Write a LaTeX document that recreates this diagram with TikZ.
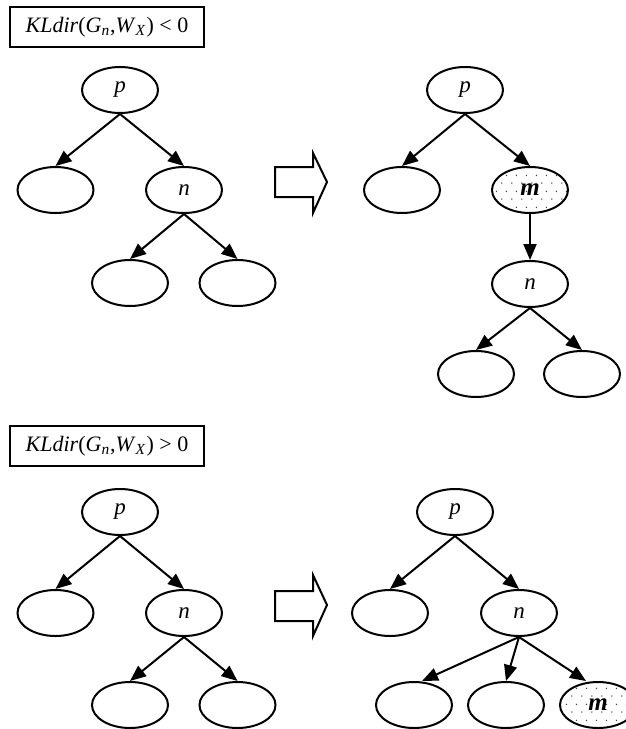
\documentclass[tikz,border=0pt]{standalone}
\usepackage{fontspec}
\setmainfont{Liberation Serif}
\usetikzlibrary{shapes.geometric,arrows.meta,patterns.meta}

% sparse staggered dots for the inserted node
\tikzdeclarepattern{
  name=sparsedots,
  type=uncolored,
  bounding box={(0pt,0pt) and (5pt,8pt)},
  tile size={(5pt,8pt)},
  code={
    \fill (1pt,1pt) circle (0.4pt);
    \fill (3.5pt,5pt) circle (0.4pt);
  }
}

\tikzset{
  treenode/.style={draw, ellipse, line width=1pt, minimum width=38pt,
    minimum height=23pt, inner sep=0pt, font=\fontsize{11.5}{13}\selectfont\itshape},
  newnode/.style={treenode, pattern=sparsedots, pattern color=black!75,
    font=\fontsize{12.5}{13}\selectfont\bfseries\itshape},
  condbox/.style={draw, rectangle, line width=1pt, minimum width=97pt,
    minimum height=20pt, inner sep=0pt, font=\fontsize{11}{13}\selectfont},
  edge/.style={line width=1pt, -{Triangle[length=8pt,width=6.5pt]}},
  bigarrow/.style={draw, line width=1pt, fill=white, line join=miter}
}

\begin{document}
\begin{tikzpicture}[x=0.5pt, y=-0.5pt]
\useasboundingbox (0,0) rectangle (626,729);

% ---------- upper case: KLdir < 0 ----------
\node[condbox] (c1) at (107,27)
  {\textit{KLdir}(\textit{G}\textsubscript{\textit{n}},\textit{W}\textsubscript{\textit{X}}) < 0};

% tree before
\node[treenode] (ap)  at (120,90)  {p};
\node[treenode] (al)  at (55.5,190) {};
\node[treenode] (an)  at (184,190) {n};
\node[treenode] (anl) at (130,283) {};
\node[treenode] (anr) at (237.5,283) {};
\draw[edge] (ap.south) -- (al.north);
\draw[edge] (ap.south) -- (an.north);
\draw[edge] (an.south) -- (anl.north);
\draw[edge] (an.south) -- (anr.north);

% transformation arrow
\draw[bigarrow] (275,167) -- (313,167) -- (313,153) -- (327,182)
  -- (313,213) -- (313,197) -- (275,197) -- cycle;

% tree after: m inserted between p and n
\node[treenode] (bp)  at (465,90)  {p};
\node[treenode] (bl)  at (402,190) {};
\node[newnode]  (bm)  at (530,190) {m};
\node[treenode] (bn)  at (530,284) {n};
\node[treenode] (bnl) at (476,374) {};
\node[treenode] (bnr) at (582,374) {};
\draw[edge] (bp.south) -- (bl.north);
\draw[edge] (bp.south) -- (bm.north);
\draw[edge] (bm.south) -- (bn.north);
\draw[edge] (bn.south) -- (bnl.north);
\draw[edge] (bn.south) -- (bnr.north);

% ---------- lower case: KLdir > 0 ----------
\node[condbox] (c2) at (107,446)
  {\textit{KLdir}(\textit{G}\textsubscript{\textit{n}},\textit{W}\textsubscript{\textit{X}}) > 0};

% tree before
\node[treenode] (cp)  at (120,512) {p};
\node[treenode] (cl)  at (55.5,613) {};
\node[treenode] (cn)  at (184,613) {n};
\node[treenode] (cnl) at (130,705) {};
\node[treenode] (cnr) at (237.5,705) {};
\draw[edge] (cp.south) -- (cl.north);
\draw[edge] (cp.south) -- (cn.north);
\draw[edge] (cn.south) -- (cnl.north);
\draw[edge] (cn.south) -- (cnr.north);

% transformation arrow
\draw[bigarrow] (275,591) -- (313,591) -- (313,575) -- (327,605)
  -- (313,636) -- (313,621) -- (275,621) -- cycle;

% tree after: m added as a new child of n
\node[treenode] (dp)  at (455,512) {p};
\node[treenode] (dl)  at (390,613) {};
\node[treenode] (dn)  at (519,613) {n};
\node[treenode] (dc1) at (414,705) {};
\node[treenode] (dc2) at (506,705) {};
\node[newnode]  (dm)  at (598,705) {m};
\draw[edge] (dp.south) -- (dl.north);
\draw[edge] (dp.south) -- (dn.north);
\draw[edge] (dn.south) -- ([xshift=4]dc1.north);
\draw[edge] (dn.south) -- (dc2.north);
\draw[edge] (dn.south) -- ([xshift=-6]dm.north);
\end{tikzpicture}
\end{document}
